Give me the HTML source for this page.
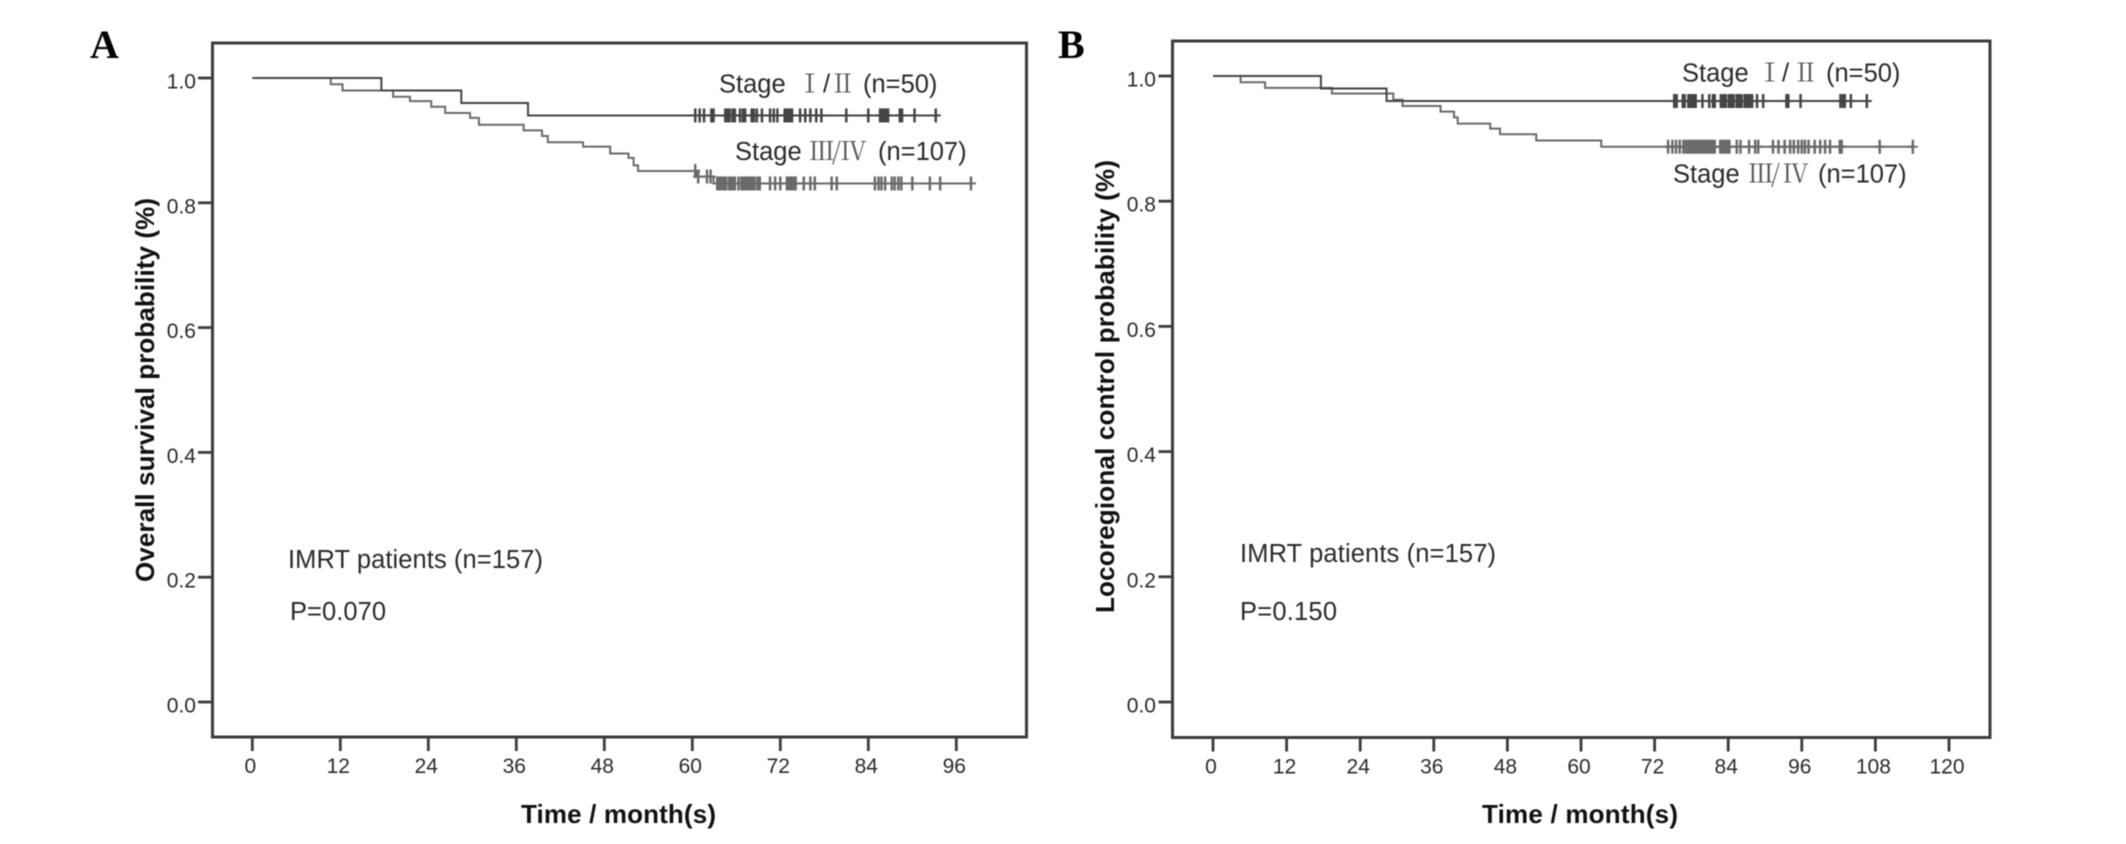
<!DOCTYPE html>
<html lang="en">
<head>
<meta charset="utf-8">
<title>Kaplan-Meier curves by stage</title>
<style>
  html, body { margin: 0; padding: 0; background: #fff; }
  #figure { display: block; filter: blur(0.5px); }
  text { font-family: "Liberation Sans", Arial, sans-serif; fill: #2a2a2a; }
  .panel-letter { font-family: "Liberation Serif", serif; font-weight: bold; font-size: 40px; fill: #000; }
  .axis-title { font-weight: bold; font-size: 26px; fill: #111; }
  .tick-label { font-size: 21px; fill: #2a2a2a; }
  .note { font-size: 25.5px; fill: #2a2a2a; }
  .roman { font-family: "Noto Serif CJK SC", "Liberation Serif", serif; font-weight: 400; fill: #555; }
</style>
</head>
<body>
<svg id="figure" xmlns="http://www.w3.org/2000/svg" width="2126" height="844" viewBox="0 0 2126 844">
  <rect x="0" y="0" width="2126" height="844" fill="#fff"/>

  <g id="panel-a">
    <text class="panel-letter" x="90" y="58">A</text>
    <rect x="212.5" y="43" width="814" height="694" fill="none" stroke="#3c3c3c" stroke-width="3"/>
    <text class="axis-title" transform="translate(154 582) rotate(-90)" textLength="384">Overall survival probability (%)</text>
    <text class="axis-title" x="521" y="823" textLength="195">Time / month(s)</text>
    <text class="note" x="288" y="568" textLength="255">IMRT patients (n=157)</text>
    <text class="note" x="290" y="620" textLength="96">P=0.070</text>
    <text class="note" y="92.5"><tspan x="719">Stage</tspan><tspan class="roman" x="797">Ⅰ</tspan><tspan x="823">/</tspan><tspan class="roman" x="830">Ⅱ</tspan><tspan x="863">(n=50)</tspan></text>
    <text class="note" y="160"><tspan x="735">Stage</tspan><tspan class="roman" x="809">Ⅲ</tspan><tspan class="roman" x="832">/</tspan><tspan class="roman" x="841">Ⅳ</tspan><tspan x="878">(n=107)</tspan></text>
  </g>

  <g id="panel-b">
    <text class="panel-letter" x="1058" y="58">B</text>
    <rect x="1172.5" y="41" width="817.5" height="696.5" fill="none" stroke="#3c3c3c" stroke-width="3"/>
    <text class="axis-title" transform="translate(1114 613) rotate(-90)" textLength="453">Locoregional control probability (%)</text>
    <text class="axis-title" x="1482" y="823" textLength="196">Time / month(s)</text>
    <text class="note" x="1240" y="562" textLength="256">IMRT patients (n=157)</text>
    <text class="note" x="1240" y="620" textLength="97">P=0.150</text>
    <text class="note" y="81.5"><tspan x="1682">Stage</tspan><tspan class="roman" x="1757">Ⅰ</tspan><tspan x="1782">/</tspan><tspan class="roman" x="1793">Ⅱ</tspan><tspan x="1826">(n=50)</tspan></text>
    <text class="note" y="182.5"><tspan x="1673">Stage</tspan><tspan class="roman" x="1748">Ⅲ</tspan><tspan class="roman" x="1771">/</tspan><tspan class="roman" x="1783">Ⅳ</tspan><tspan x="1818">(n=107)</tspan></text>
  </g>
</svg>

<script>
// Shared axis values
const yTickValues = [0.0, 0.2, 0.4, 0.6, 0.8, 1.0];
const yTickLabels = ["0.0", "0.2", "0.4", "0.6", "0.8", "1.0"];

// Panel A: overall survival
const xTicksA = [0, 12, 24, 36, 48, 60, 72, 84, 96];
const earlyStepMonthsA = [17.6, 28.5, 37.6];
const earlyStepValuesA = [0.98, 0.96, 0.94];
const earlyCensorMonthsA = [60.4, 61, 61.6, 62.6, 62.9, 64.5, 64.8, 65.1, 65.5, 65.8, 66.5, 66.9, 67.2, 68.1, 68.4, 68.8, 69.5, 70.6, 71.1, 71.6, 72.6, 72.8, 73, 73.3, 73.6, 74.7, 75.4, 76.1, 76.9, 77.6, 81, 84, 85.6, 85.9, 86.2, 86.5, 86.7, 88.3, 88.6, 90.3, 93.2];
const lateStepMonthsA = [10.7, 12.3, 19.2, 21.5, 24.4, 26.3, 29.7, 30.9, 37, 39.5, 40.3, 45.1, 48.8, 51.3, 52, 52.6, 60.6, 62.9];
const lateStepValuesA = [0.99, 0.98, 0.97, 0.963, 0.954, 0.944, 0.936, 0.925, 0.916, 0.907, 0.897, 0.89, 0.879, 0.872, 0.86, 0.851, 0.842, 0.831];
const lateCensorMonthsA = [60.4, 60.8, 62, 62.5, 63.4, 63.7, 64, 64.3, 64.6, 65, 65.3, 65.6, 65.8, 66.3, 66.7, 67, 67.3, 67.6, 67.9, 68.2, 68.5, 68.9, 69.2, 70.6, 71.3, 72, 72.9, 73.2, 73.5, 73.8, 74.1, 75.2, 76.1, 76.7, 79, 79.7, 84.9, 85.4, 85.8, 86.3, 87.2, 87.6, 88.1, 88.5, 90, 92.4, 93.8, 98];

// Panel B: locoregional control
const xTicksB = [0, 12, 24, 36, 48, 60, 72, 84, 96, 108, 120];
const earlyStepMonthsB = [17.6, 28.3];
const earlyStepValuesB = [0.98, 0.96];
const earlyCensorMonthsB = [75.2, 75.6, 76.6, 76.9, 77.5, 77.9, 78.3, 78.7, 79.8, 80.9, 81.5, 81.8, 82.8, 83.2, 83.6, 84.1, 84.5, 84.9, 85.4, 85.8, 86.2, 86.7, 87.1, 87.5, 87.9, 88.7, 89.7, 93.5, 93.8, 95.8, 102.3, 102.7, 103, 104, 106.6];
const lateStepMonthsB = [4.5, 8.5, 19.4, 29.4, 30.9, 37.1, 39.3, 39.9, 45.2, 46.8, 52.7, 63.3];
const lateStepValuesB = [0.99, 0.981, 0.972, 0.962, 0.952, 0.943, 0.934, 0.924, 0.916, 0.907, 0.897, 0.887];
const lateCensorMonthsB = [74.2, 74.9, 75.5, 76.1, 76.7, 77.1, 77.5, 77.8, 78.1, 78.4, 78.7, 79, 79.3, 79.6, 79.9, 80.2, 80.5, 80.8, 81.1, 81.4, 81.8, 82.7, 83, 83.3, 83.6, 83.9, 84.2, 85.4, 86, 87.4, 88.4, 88.9, 91.3, 92.2, 93.2, 94.1, 94.7, 95.4, 96, 96.5, 97.1, 98.1, 99, 99.8, 100.6, 102.2, 102.5, 108.7, 114.1];

const SVG_NS = "http://www.w3.org/2000/svg";

function makeLine(x1, y1, x2, y2, stroke, width) {
  const el = document.createElementNS(SVG_NS, "line");
  el.setAttribute("x1", x1);
  el.setAttribute("y1", y1);
  el.setAttribute("x2", x2);
  el.setAttribute("y2", y2);
  el.setAttribute("stroke", stroke);
  el.setAttribute("stroke-width", width);
  return el;
}

function makeLabel(x, y, anchor, content) {
  const el = document.createElementNS(SVG_NS, "text");
  el.setAttribute("class", "tick-label");
  el.setAttribute("x", x);
  el.setAttribute("y", y);
  el.setAttribute("text-anchor", anchor);
  el.textContent = content;
  return el;
}

function stepValueAt(month, stepMonths, stepValues) {
  let value = 1;
  for (let i = 0; i < stepMonths.length; i++) {
    if (month >= stepMonths[i]) value = stepValues[i];
  }
  return value;
}

function drawAxes(group, xScale, yScale, xTicks, axisX, axisY, labelRight, prefix) {
  xTicks.forEach(function (month) {
    const tick = makeLine(xScale(month), axisY, xScale(month), axisY + 14, "#3c3c3c", 2.8);
    
    
    group.appendChild(tick);
    const label = makeLabel(xScale(month) - 2, axisY + 36, "middle", String(month));
    
    
    group.appendChild(label);
  });
  yTickValues.forEach(function (value, i) {
    const tick = makeLine(axisX - 14, yScale(value), axisX, yScale(value), "#3c3c3c", 2.8);
    
    
    group.appendChild(tick);
    const label = makeLabel(labelRight, yScale(value) + 10.5, "end", yTickLabels[i]);
    
    
    group.appendChild(label);
  });
}

function drawCurve(group, xScale, yScale, stepMonths, stepValues, censorMonths, color, seriesName) {
  const lastMonth = censorMonths[censorMonths.length - 1];
  let d = "M" + xScale(0) + " " + yScale(1);
  stepMonths.forEach(function (month, i) {
    d += "H" + xScale(month) + "V" + yScale(stepValues[i]);
  });
  d += "H" + xScale(lastMonth);
  const path = document.createElementNS(SVG_NS, "path");
  path.setAttribute("d", d);
  path.setAttribute("fill", "none");
  path.setAttribute("stroke", color);
  path.setAttribute("stroke-width", 2);
  
  
  group.appendChild(path);

  censorMonths.forEach(function (month) {
    const x = xScale(month);
    const y = yScale(stepValueAt(month, stepMonths, stepValues));
    const vertical = makeLine(x, y - 7, x, y + 7, color, 2.5);
    
    
    group.appendChild(vertical);
    const horizontal = makeLine(x - 5, y, x + 5, y, color, 2);
    
    
    group.appendChild(horizontal);
  });
}

// Panel A scales
const xA = function (month) { return 252.3 + month * 88 / 12; };
const yA = function (value) { return 702 - value * 624; };
const groupA = document.getElementById("panel-a");
drawAxes(groupA, xA, yA, xTicksA, 212, 737, 196, "panel-a");
drawCurve(groupA, xA, yA, lateStepMonthsA, lateStepValuesA, lateCensorMonthsA, "#6a6a6a", "panel-a-stage-late");
drawCurve(groupA, xA, yA, earlyStepMonthsA, earlyStepValuesA, earlyCensorMonthsA, "#444444", "panel-a-stage-early");

// Panel B scales
const xB = function (month) { return 1213 + month * 73.6 / 12; };
const yB = function (value) { return 702 - value * 626; };
const groupB = document.getElementById("panel-b");
drawAxes(groupB, xB, yB, xTicksB, 1172.5, 737.5, 1156, "panel-b");
drawCurve(groupB, xB, yB, lateStepMonthsB, lateStepValuesB, lateCensorMonthsB, "#6a6a6a", "panel-b-stage-late");
drawCurve(groupB, xB, yB, earlyStepMonthsB, earlyStepValuesB, earlyCensorMonthsB, "#444444", "panel-b-stage-early");
</script>
</body>
</html>
